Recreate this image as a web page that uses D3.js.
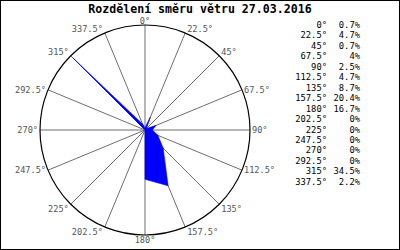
<!DOCTYPE html>
<html>
<head>
<meta charset="utf-8">
<script src="https://cdn.jsdelivr.net/npm/d3@7"></script>
<style>
  body { margin: 0; background: #fff; }
  text { font-family: "DejaVu Sans Mono", monospace; }
</style>
</head>
<body>
<div id="chart"></div>
<script>
(function() {
    var width = 400;
    var height = 250;

    const title = "Rozdělení směru větru 27.03.2016";
    const directions = [0, 22.5, 45, 67.5, 90, 112.5, 135, 157.5, 180, 202.5, 225, 247.5, 270, 292.5, 315, 337.5];
    const percents = [0.7, 4.7, 0.7, 4, 2.5, 4.7, 8.7, 20.4, 16.7, 0, 0, 0, 0, 0, 34.5, 2.2];

    const cx = 145, cy = 130, R = 105;

    var svg = d3.select("#chart")
    .append("svg")
    .attr("width", width)
    .attr("height", height);

    svg.append("rect")
    .attr("x", 0.5).attr("y", 0.5)
    .attr("width", width - 1).attr("height", height - 1)
    .attr("fill", "#fff")
    .attr("stroke", "#000");

    svg.append("text")
    .attr("x", width / 2)
    .attr("y", 13)
    .attr("text-anchor", "middle")
    .attr("font-size", "11.6px")
    .attr("font-weight", "bold")
    .text(title);

    const g = svg.append("g")
    .attr("transform", `translate(${cx}, ${cy})`);

    // direction in degrees clockwise from north -> radians for d3 radial
    const angle = d3.scaleLinear().domain([0, 360]).range([0, 2 * Math.PI]);
    const rScale = d3.scaleLinear()
    .domain([0, d3.max(percents) * 1.03])
    .range([0, R]);

    const px = (a, r) => r * Math.sin(angle(a));
    const py = (a, r) => -r * Math.cos(angle(a));

    // spokes
    g.selectAll(".spoke")
    .data(directions)
    .enter()
    .append("line")
    .attr("class", "spoke")
    .attr("x1", 0).attr("y1", 0)
    .attr("x2", d => px(d, R))
    .attr("y2", d => py(d, R))
    .attr("stroke", "#6e6e6e")
    .attr("stroke-width", 1);

    g.append("circle")
    .attr("r", R)
    .attr("fill", "none")
    .attr("stroke", "#000")
    .attr("stroke-width", 1.2);

    // data polygon
    const line = d3.lineRadial()
    .angle((d, i) => angle(directions[i]))
    .radius(d => rScale(d))
    .curve(d3.curveLinearClosed);

    g.append("path")
    .attr("d", line(percents))
    .attr("fill", "#0000ff")
    .attr("stroke", "#0000ff")
    .attr("stroke-width", 0.6);

    // angle labels
    g.selectAll(".alabel")
    .data(directions)
    .enter()
    .append("text")
    .attr("class", "alabel")
    .attr("font-size", "8.6px")
    .attr("fill", "#555")
    .attr("x", d => {
        const s = Math.sin(angle(d));
        return px(d, R) + (s > 0.1 ? 2 : s < -0.1 ? -2 : 0);
    })
    .attr("y", d => {
        const c = Math.cos(angle(d));
        return py(d, R) + (c > 0.5 ? -1 : c < -0.5 ? 8 : 3);
    })
    .attr("text-anchor", d => {
        const s = Math.sin(angle(d));
        return s > 0.1 ? "start" : s < -0.1 ? "end" : "middle";
    })
    .text(d => d + "°");

    // legend
    const legend = svg.append("g");
    const rowH = 10.45;

    legend.selectAll(".ldir")
    .data(directions)
    .enter()
    .append("text")
    .attr("font-size", "8.8px")
    .attr("text-anchor", "end")
    .attr("x", 327)
    .attr("y", (d, i) => 28 + i * rowH)
    .text(d => d + "°");

    legend.selectAll(".lval")
    .data(percents)
    .enter()
    .append("text")
    .attr("font-size", "8.8px")
    .attr("text-anchor", "end")
    .attr("x", 360)
    .attr("y", (d, i) => 28 + i * rowH)
    .text(d => d + "%");
})();
</script>
</body>
</html>
